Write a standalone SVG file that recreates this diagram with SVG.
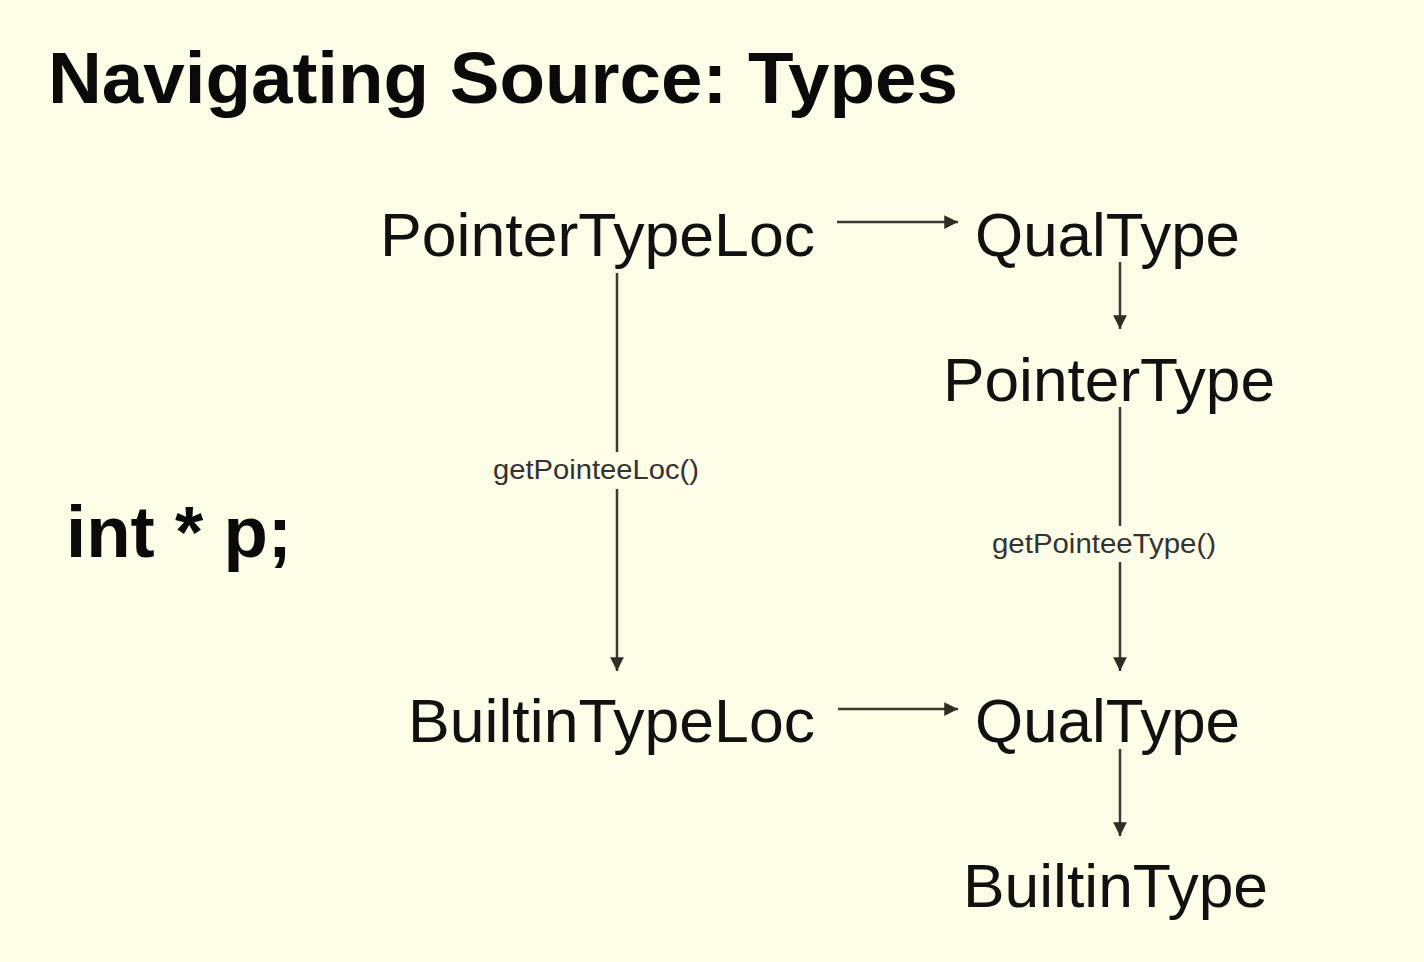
<svg xmlns="http://www.w3.org/2000/svg" width="1424" height="962" viewBox="0 0 1424 962">
<defs>
<marker id="ah" viewBox="0 0 10 10" refX="10" refY="5" markerWidth="5.5" markerHeight="5.5" markerUnits="strokeWidth" orient="auto">
<path d="M0,0 L10,5 L0,10 Z" fill="#2e2e26"/>
</marker>
<style>
.title{font-family:"Liberation Sans",Arial,sans-serif;font-weight:bold;font-size:73px;fill:#0a0a0a}
.code{font-family:"Liberation Sans",Arial,sans-serif;font-weight:bold;font-size:72px;fill:#0a0a0a}
.node{font-family:"Liberation Sans",Arial,sans-serif;font-size:61px;fill:#111}
.lbl{font-family:"Liberation Sans",Arial,sans-serif;font-size:27px;fill:#333}
.edge{stroke:#3a3a32;stroke-width:2.5;fill:none}
.arr{stroke:#3a3a32;stroke-width:2.5;fill:none;marker-end:url(#ah)}
</style>
</defs>
<rect width="1424" height="962" fill="#fcfce7"/>
<text class="title" x="48" y="103" textLength="910" lengthAdjust="spacingAndGlyphs">Navigating Source: Types</text>
<text class="code" x="66" y="557" textLength="226" lengthAdjust="spacingAndGlyphs">int * p;</text>
<g id="n-pointertypeloc"><text class="node" x="380" y="256" textLength="435" lengthAdjust="spacingAndGlyphs">PointerTypeLoc</text></g>
<g id="n-qualtype1"><text class="node" x="975" y="256" textLength="265" lengthAdjust="spacingAndGlyphs">QualType</text></g>
<g id="n-pointertype"><text class="node" x="943" y="401" textLength="332" lengthAdjust="spacingAndGlyphs">PointerType</text></g>
<g id="n-builtintypeloc"><text class="node" x="408" y="742" textLength="407" lengthAdjust="spacingAndGlyphs">BuiltinTypeLoc</text></g>
<g id="n-qualtype2"><text class="node" x="975" y="742" textLength="265" lengthAdjust="spacingAndGlyphs">QualType</text></g>
<g id="n-builtintype"><text class="node" x="963" y="907" textLength="305" lengthAdjust="spacingAndGlyphs">BuiltinType</text></g>
<g id="connectors">
<line class="arr" x1="837" y1="222" x2="958" y2="222"/>
<line class="arr" x1="838" y1="709" x2="958" y2="709"/>
<line class="arr" x1="1120" y1="262" x2="1120" y2="329"/>
<line class="edge" x1="617" y1="273" x2="617" y2="452"/>
<line class="arr" x1="617" y1="489" x2="617" y2="671"/>
<line class="edge" x1="1120" y1="407" x2="1120" y2="526"/>
<line class="arr" x1="1120" y1="562" x2="1120" y2="671"/>
<line class="arr" x1="1120" y1="749" x2="1120" y2="836"/>
<text class="lbl" x="493" y="479" textLength="206" lengthAdjust="spacingAndGlyphs">getPointeeLoc()</text>
<text class="lbl" x="992" y="553" textLength="224" lengthAdjust="spacingAndGlyphs">getPointeeType()</text>
</g>
</svg>
